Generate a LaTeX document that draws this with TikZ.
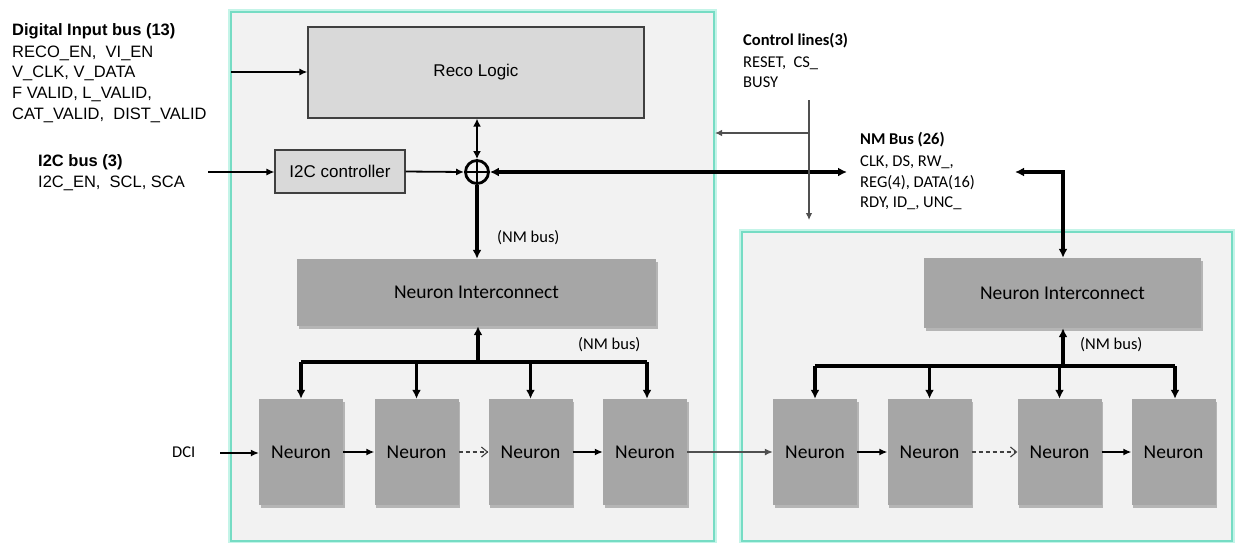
\documentclass[tikz,border=0pt]{standalone}
\usepackage{fontspec}
\setmainfont{Liberation Sans}
\newfontfamily\calib{Carlito}
\usetikzlibrary{arrows.meta,shadows}
\definecolor{tealb}{RGB}{118,220,196}
\definecolor{tealglow}{RGB}{196,244,232}
\definecolor{boxbg}{RGB}{242,242,242}
\definecolor{lightbox}{RGB}{217,217,217}
\definecolor{neurbox}{RGB}{166,166,166}
\definecolor{edgegray}{RGB}{64,64,64}
\definecolor{ctrlgray}{RGB}{80,80,80}
\begin{document}
\begin{tikzpicture}[x=1pt,y=-1pt,
  outerbox/.style={draw=tealb, line width=2pt, fill=boxbg},
  glowbox/.style={draw=tealglow, line width=6pt},
  lightblk/.style={draw=edgegray, line width=1.2pt, fill=lightbox, inner sep=0, font=\fontsize{17}{20}\selectfont},
  neurblk/.style={fill=neurbox, inner sep=0, font=\calib\fontsize{19.5}{22}\selectfont,
     drop shadow={shadow xshift=1.5pt, shadow yshift=-2.5pt, opacity=0.25, fill=black}},
  armtxt/.style={anchor=base west, inner sep=0, font=\fontsize{16.5}{20}\selectfont},
  armbold/.style={armtxt, font=\bfseries\fontsize{16.5}{20}\selectfont},
  caltxt/.style={anchor=base west, inner sep=0, font=\calib\fontsize{16.5}{20}\selectfont},
  calbold/.style={caltxt, font=\calib\bfseries\fontsize{16.5}{20}\selectfont},
  thinarr/.style={-{Latex[length=8pt,width=7pt]}, line width=1.2pt},
  thickarr/.style={-{Latex[length=9pt,width=9pt]}, line width=3.2pt},
  medarr/.style={{Latex[length=8pt,width=8pt]}-{Latex[length=8pt,width=8pt]}, line width=2pt},
  busline/.style={line width=3.4pt},
  bidir/.style={{Latex[length=9pt,width=9pt]}-{Latex[length=9pt,width=9pt]}, line width=3.2pt},
  ctrlarr/.style={-{Latex[length=7pt,width=6.5pt]}, line width=1.1pt, draw=ctrlgray},
  dasharr/.style={-{Straight Barb[length=6pt,width=10pt]}, line width=1.1pt, dash pattern=on 4pt off 3pt, draw=edgegray}
]
\useasboundingbox (0,0) rectangle (1236,542);

% outer boxes
\draw[glowbox] (231,12) rectangle (714,541);
\draw[outerbox] (231,12) rectangle (714,541);
\draw[glowbox] (742,232) rectangle (1232,541);
\draw[outerbox] (742,232) rectangle (1232,541);

% left texts
\node[armbold] (dib) at (12,35) {Digital Input bus (13)};
\node[armtxt] (dib1) at (12,57) {RECO\_EN,\ \ VI\_EN};
\node[armtxt] (dib2) at (12,77) {V\_CLK, V\_DATA};
\node[armtxt] (dib3) at (12,98) {F VALID, L\_VALID,};
\node[armtxt] (dib4) at (12,119) {CAT\_VALID,\ \ DIST\_VALID};
\node[armbold] (i2cb) at (38,166) {I2C bus (3)};
\node[armtxt] (i2cb1) at (38,187) {I2C\_EN,\ \ SCL, SCA};

% control lines / NM bus texts
\node[calbold] (ctl) at (743,45) {Control lines(3)};
\node[caltxt] (ctl1) at (743,67) {RESET,\ \ CS\_};
\node[caltxt] (ctl2) at (743,87) {BUSY};
\node[calbold] (nmb) at (860,144) {NM Bus (26)};
\node[caltxt] (nmb1) at (860,166) {CLK, DS, RW\_,};
\node[caltxt] (nmb2) at (860,187) {REG(4), DATA(16)};
\node[caltxt] (nmb3) at (860,207) {RDY, ID\_, UNC\_};

% blocks
\node[lightblk, minimum width=336, minimum height=91] (reco) at (476,72.5) {Reco Logic};
\node[lightblk, minimum width=130, minimum height=43] (i2c) at (340,171.5) {I2C controller};
\node[circle, draw, line width=2.8pt, minimum size=23, inner sep=0] (plus) at (477,172) {};
\draw[line width=2.2pt] (plus.north) -- (plus.south) (plus.west) -- (plus.east);

\node[neurblk, minimum width=359, minimum height=67] (nia) at (476.5,292.5) {Neuron Interconnect};
\node[neurblk, minimum width=277, minimum height=70] (nib) at (1062.5,293) {Neuron Interconnect};

\node[neurblk, minimum width=84, minimum height=106] (n1) at (301,452) {Neuron};
\node[neurblk, minimum width=84, minimum height=106] (n2) at (416.5,452) {Neuron};
\node[neurblk, minimum width=84, minimum height=106] (n3) at (530.5,452) {Neuron};
\node[neurblk, minimum width=84, minimum height=106] (n4) at (645,452) {Neuron};
\node[neurblk, minimum width=84, minimum height=106] (m1) at (815,452) {Neuron};
\node[neurblk, minimum width=84, minimum height=106] (m2) at (929.5,452) {Neuron};
\node[neurblk, minimum width=84, minimum height=106] (m3) at (1059.5,452) {Neuron};
\node[neurblk, minimum width=84, minimum height=106] (m4) at (1173.5,452) {Neuron};

% labels
\node[caltxt] (nml1) at (497,242) {(NM bus)};
\node[caltxt] (nml2) at (578,349) {(NM bus)};
\node[caltxt] (nml3) at (1080,349) {(NM bus)};
\node[caltxt] (dci) at (172,457) {DCI};

% coordinates
\coordinate (dinA) at (231,72);
\coordinate (i2cA) at (208,172);
\coordinate (nmEnd) at (847,172);
\coordinate (nmEnd2) at (1015,172);
\coordinate (nmCorner) at (1063,172);
\coordinate (ctlTop) at (809,100);
\coordinate (ctlBot) at (809,220);
\coordinate (ctlBr) at (809,133);
\coordinate (ctlLeft) at (715,133);
\coordinate (dciA) at (220,453);
\coordinate (busA) at (478,362);
\coordinate (busAL) at (301,362);
\coordinate (busAR) at (647,362);
\coordinate (busB) at (1063,366);
\coordinate (busBL) at (815,366);
\coordinate (busBR) at (1175,366);

% connectors top-left
\draw[thinarr, line width=1.4pt] (dinA) -- (reco.west |- dinA);
\draw[thinarr] (i2cA) -- (i2c.west |- i2cA);
\draw[thinarr, line width=1.8pt] (i2c.east) -- (plus.west);
\draw[medarr] (reco.south -| plus.north) -- (plus.north);
\draw[bidir] (plus.east) -- (nmEnd);
\draw[thickarr] (plus.south) -- (nia.north -| plus.south);

% control lines
\draw[ctrlarr] (ctlTop) -- (ctlBot);
\draw[ctrlarr] (ctlBr) -- (ctlLeft);

% right NM bus
\draw[bidir] (nmEnd2) -- (nmCorner) -- (nib.north -| nmCorner);

% left internal bus
\draw[busline] (busAL) -- (busAR);
\draw[thickarr, line width=4pt] (busA) -- (nia.south -| busA);
\draw[thickarr] (busAL) -- (n1.north -| busAL);
\draw[thickarr] (n2.north |- busAL) -- (n2.north);
\draw[thickarr] (n3.north |- busAL) -- (n3.north);
\draw[thickarr] (busAR) -- (n4.north -| busAR);

% right internal bus
\draw[busline] (busBL) -- (busBR);
\draw[thickarr, line width=4pt] (busB) -- (nib.south -| busB);
\draw[thickarr] (busBL) -- (m1.north -| busBL);
\draw[thickarr] (m2.north |- busBL) -- (m2.north);
\draw[thickarr] (m3.north |- busBL) -- (m3.north);
\draw[thickarr] (busBR) -- (m4.north -| busBR);

% neuron chain
\draw[thinarr] (dciA) -- (n1.west |- dciA);
\draw[thinarr, line width=1.4pt] (n1.east) -- (n2.west);
\draw[dasharr] (n2.east) -- (n3.west);
\draw[thinarr, line width=1.4pt] (n3.east) -- (n4.west);
\draw[thinarr, draw=ctrlgray] (n4.east) -- (m1.west);
\draw[thinarr, line width=1.4pt] (m1.east) -- (m2.west);
\draw[dasharr] (m2.east) -- (m3.west);
\draw[thinarr, line width=1.4pt] (m3.east) -- (m4.west);
\end{tikzpicture}
\end{document}
